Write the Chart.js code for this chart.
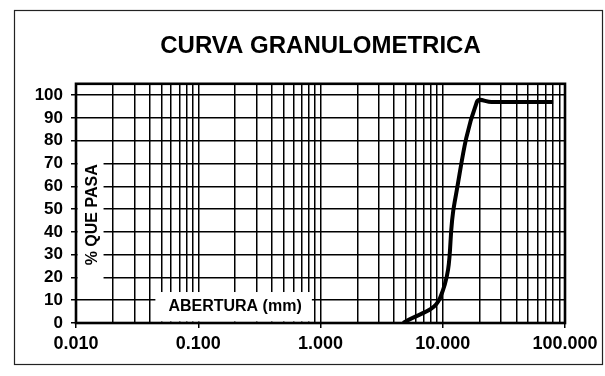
<!DOCTYPE html>
<html>
<head>
<meta charset="utf-8">
<script src="https://cdn.jsdelivr.net/npm/chart.js@4.4.0/dist/chart.umd.min.js"></script>
<style>
  html, body { margin: 0; padding: 0; background: #fff; }
</style>
</head>
<body>
<canvas id="curva" width="605" height="376"></canvas>
<script>
// abertura del tamiz (mm) y % que pasa
const aberturas = [4.75, 9.5, 12.5, 19.0, 25.0, 37.5, 50.0, 80.0];
const pasa      = [0,    11,  53,   97,   97,   97,   97,   97];

// eje x logaritmico: decadas con su etiqueta
const decadas    = [0.01, 0.1, 1, 10, 100];
const etiquetasX = ['0.010', '0.100', '1.000', '10.000', '100.000'];
const marcasY    = [0, 10, 20, 30, 40, 50, 60, 70, 80, 90, 100];

// lineas de 1 a 9 en cada decada
const marcasX = [];
decadas.slice(0, -1).forEach(d => {
  for (let k = 1; k <= 9; k++) marcasX.push(k === 1 ? d : d * k);
});
marcasX.push(decadas[decadas.length - 1]);

const fuente = '"Liberation Sans", Arial, sans-serif';

// recuadros blancos con los titulos de los ejes dentro del grafico + marcos
const marco = {
  id: 'marco',
  beforeDatasetsDraw(chart) {
    const { ctx, chartArea: a, scales: { x, y } } = chart;
    ctx.save();
    ctx.fillStyle = '#fff';
    // titulo vertical
    const yTop = y.getPixelForValue(76), yBot = y.getPixelForValue(16);
    ctx.fillRect(a.left + 1.5, yTop, x.getPixelForValue(0.0168) - a.left - 1.5, yBot - yTop);
    // titulo horizontal
    const xIzq = x.getPixelForValue(0.0446), xDer = x.getPixelForValue(0.85);
    const yCaja = y.getPixelForValue(13.6);
    ctx.fillRect(xIzq, yCaja, xDer - xIzq, a.bottom - 1.5 - yCaja);

    ctx.fillStyle = '#000';
    ctx.font = 'bold 16px ' + fuente;
    ctx.textAlign = 'center';
    ctx.textBaseline = 'middle';
    ctx.fillText('ABERTURA (mm)', x.getPixelForValue(0.2), y.getPixelForValue(7));
    ctx.translate(x.getPixelForValue(0.0136), y.getPixelForValue(47.5));
    ctx.rotate(-Math.PI / 2);
    ctx.fillText('% QUE PASA', 0, 0);
    ctx.restore();

    ctx.save();
    ctx.strokeStyle = '#000';
    ctx.lineWidth = 2.6;
    ctx.strokeRect(a.left, a.top, a.right - a.left, a.bottom - a.top);
    ctx.restore();
  },
  afterDraw(chart) {
    const ctx = chart.ctx;
    ctx.save();
    ctx.strokeStyle = '#222';
    ctx.lineWidth = 1.2;
    ctx.strokeRect(14.5, 10.5, chart.width - 17, chart.height - 22);
    ctx.restore();
  }
};

new Chart(document.getElementById('curva'), {
  type: 'line',
  data: {
    datasets: [{
      data: aberturas.map((a, i) => ({ x: a, y: pasa[i] })),
      borderColor: '#000',
      borderWidth: 4,
      pointRadius: 0,
      tension: 0.4,
      fill: false
    }]
  },
  options: {
    responsive: false,
    animation: false,
    devicePixelRatio: 1,
    layout: { padding: { top: 20, right: 40, bottom: 0, left: 0 } },
    plugins: {
      legend: { display: false },
      tooltip: { enabled: false },
      title: {
        display: true,
        fullSize: false,
        text: 'CURVA GRANULOMETRICA',
        color: '#000',
        font: { family: fuente, size: 24, weight: 'bold' },
        padding: { top: 12, bottom: 23 }
      }
    },
    scales: {
      x: {
        type: 'logarithmic',
        min: 0.01,
        max: 100,
        afterBuildTicks: s => { s.ticks = marcasX.map(v => ({ value: v, major: decadas.includes(v) })); },
        afterFit: s => { s.height = 53; },
        ticks: {
          autoSkip: false,
          maxRotation: 0,
          padding: 5,
          color: '#000',
          font: { family: fuente, size: 18, weight: 'bold' },
          callback: v => { const i = decadas.indexOf(v); return i >= 0 ? etiquetasX[i] : ''; }
        },
        grid: {
          color: '#000',
          lineWidth: 1.5,
          tickLength: 5,
          tickColor: c => (c.tick && decadas.includes(c.tick.value)) ? '#000' : 'rgba(0,0,0,0)'
        },
        border: { display: false }
      },
      y: {
        min: 0,
        max: 105,
        afterBuildTicks: s => { s.ticks = marcasY.map(v => ({ value: v })); },
        afterFit: s => { s.width = 76; },
        ticks: {
          autoSkip: false,
          padding: 8,
          color: '#000',
          font: { family: fuente, size: 17, weight: 'bold' }
        },
        grid: { color: '#000', lineWidth: 1.5, tickLength: 5 },
        border: { display: false }
      }
    }
  },
  plugins: [marco]
});
</script>
</body>
</html>
